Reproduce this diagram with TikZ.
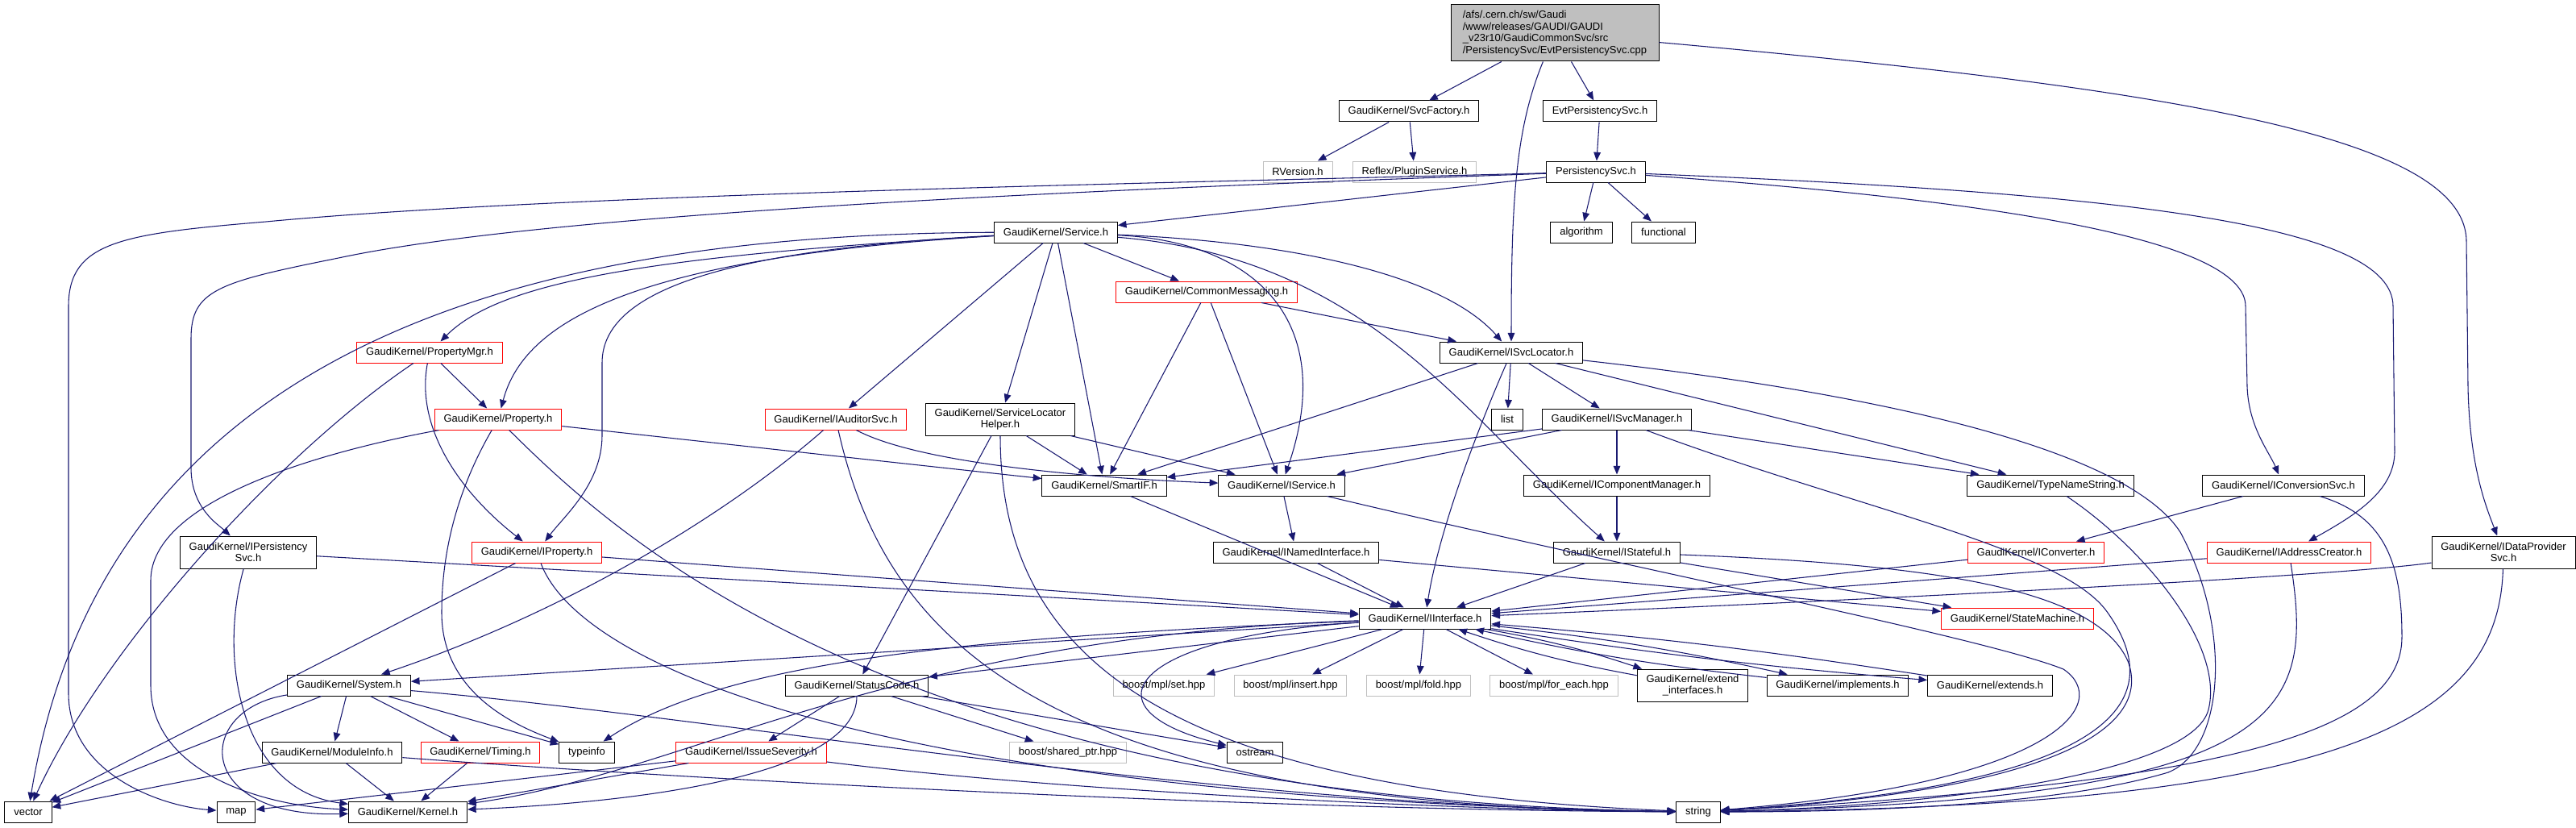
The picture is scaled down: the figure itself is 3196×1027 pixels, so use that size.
\documentclass[tikz,border=0pt]{standalone}
\usepackage{fontspec}
\setmainfont{Liberation Sans}
\usepackage{tikz}
\usetikzlibrary{arrows.meta}
\definecolor{edgeblue}{HTML}{191970}
\definecolor{rootgray}{HTML}{BFBFBF}
\definecolor{extgray}{HTML}{BFBFBF}

\begin{document}
\begin{tikzpicture}[x=0.75pt,y=0.75pt,yscale=-1,xscale=1,
  hdr/.style={draw=black,fill=white,line width=0.75pt,inner xsep=8.5pt,inner ysep=0pt,minimum height=19.5pt,align=center,font=\fontsize{9.75pt}{11pt}\selectfont},
  redhdr/.style={hdr,draw=red},
  exthdr/.style={hdr,draw=extgray},
  twohdr/.style={hdr,minimum height=30pt},
  dep/.style={draw=edgeblue,line width=0.8pt,-{Triangle[length=8pt,width=6.5pt]}}]
% set diagram left start at 0, and has height of 1027
\useasboundingbox (0,0) rectangle (3196,1027);

% Text Node
\draw (1929,41) node [hdr,fill=rootgray,align=left,inner xsep=4pt,minimum width=193.5pt,minimum height=52.5pt] (root) {/afs/.cern.ch/sw/Gaudi\\/www/releases/GAUDI/GAUDI\\\_v23r10/GaudiCommonSvc/src\\/PersistencySvc/EvtPersistencySvc.cpp};
% Text Node
\draw (1748,138) node [hdr] (svcfactory) {GaudiKernel/SvcFactory.h};
% Text Node
\draw (1985,138) node [hdr] (evtpers) {EvtPersistencySvc.h};
% Text Node
\draw (1610,213) node [exthdr] (rversion) {RVersion.h};
% Text Node
\draw (1755,213) node [exthdr] (pluginsvc) {Reflex/PluginService.h};
% Text Node
\draw (1980,213) node [hdr] (perssvc) {PersistencySvc.h};
% Text Node
\draw (1310,288) node [hdr] (service) {GaudiKernel/Service.h};
% Text Node
\draw (1962,288) node [hdr] (algorithm) {algorithm};
% Text Node
\draw (2064,288) node [hdr] (functional) {functional};
% Text Node
\draw (1497,362) node [redhdr] (commonmsg) {GaudiKernel/CommonMessaging.h};
% Text Node
\draw (533,437) node [redhdr] (propmgr) {GaudiKernel/PropertyMgr.h};
% Text Node
\draw (1875,437) node [hdr] (isvclocator) {GaudiKernel/ISvcLocator.h};
% Text Node
\draw (618,520) node [redhdr] (property) {GaudiKernel/Property.h};
% Text Node
\draw (1037,520) node [redhdr] (iauditor) {GaudiKernel/IAuditorSvc.h};
% Text Node
\draw (1241,520) node [twohdr] (slhelper) {GaudiKernel/ServiceLocator\\Helper.h};
% Text Node
\draw (1870,520) node [hdr] (list) {list};
% Text Node
\draw (2006,520) node [hdr] (isvcmanager) {GaudiKernel/ISvcManager.h};
% Text Node
\draw (1370,602) node [hdr] (smartif) {GaudiKernel/SmartIF.h};
% Text Node
\draw (1590,602) node [hdr] (iservice) {GaudiKernel/IService.h};
% Text Node
\draw (2006,602) node [hdr] (icompmgr) {GaudiKernel/IComponentManager.h};
% Text Node
\draw (2544,602) node [hdr] (typename) {GaudiKernel/TypeNameString.h};
% Text Node
\draw (2833,602) node [hdr] (iconvsvc) {GaudiKernel/IConversionSvc.h};
% Text Node
\draw (308,685) node [twohdr] (ipersistency) {GaudiKernel/IPersistency\\Svc.h};
% Text Node
\draw (666,685) node [redhdr] (iproperty) {GaudiKernel/IProperty.h};
% Text Node
\draw (1608,685) node [hdr] (inamed) {GaudiKernel/INamedInterface.h};
% Text Node
\draw (2006,685) node [hdr] (istateful) {GaudiKernel/IStateful.h};
% Text Node
\draw (2526,685) node [redhdr] (iconverter) {GaudiKernel/IConverter.h};
% Text Node
\draw (2840,685) node [redhdr] (iaddress) {GaudiKernel/IAddressCreator.h};
% Text Node
\draw (3106,685) node [twohdr] (idataprov) {GaudiKernel/IDataProvider\\Svc.h};
% Text Node
\draw (1768,767) node [hdr] (iinterface) {GaudiKernel/IInterface.h};
% Text Node
\draw (2503,767) node [redhdr] (statemachine) {GaudiKernel/StateMachine.h};
% Text Node
\draw (433,850) node [hdr] (system) {GaudiKernel/System.h};
% Text Node
\draw (1063,850) node [hdr] (statuscode) {GaudiKernel/StatusCode.h};
% Text Node
\draw (1444,850) node [exthdr] (mplset) {boost/mpl/set.hpp};
% Text Node
\draw (1601,850) node [exthdr] (mplinsert) {boost/mpl/insert.hpp};
% Text Node
\draw (1760,850) node [exthdr] (mplfold) {boost/mpl/fold.hpp};
% Text Node
\draw (1928,850) node [exthdr] (mplforeach) {boost/mpl/for\_each.hpp};
% Text Node
\draw (2100,850) node [twohdr] (extendif) {GaudiKernel/extend\\\_interfaces.h};
% Text Node
\draw (2280,850) node [hdr] (implements) {GaudiKernel/implements.h};
% Text Node
\draw (2469,850) node [hdr] (extends) {GaudiKernel/extends.h};
% Text Node
\draw (412,933) node [hdr] (moduleinfo) {GaudiKernel/ModuleInfo.h};
% Text Node
\draw (596,933) node [redhdr] (timing) {GaudiKernel/Timing.h};
% Text Node
\draw (728,933) node [hdr] (typeinfo) {typeinfo};
% Text Node
\draw (932,933) node [redhdr] (issuesev) {GaudiKernel/IssueSeverity.h};
% Text Node
\draw (1325,933) node [exthdr] (sharedptr) {boost/shared\_ptr.hpp};
% Text Node
\draw (1557,933) node [hdr] (ostream) {ostream};
% Text Node
\draw (35,1007) node [hdr] (vector) {vector};
% Text Node
\draw (293,1007) node [hdr] (map) {map};
% Text Node
\draw (506,1007) node [hdr] (kernel) {GaudiKernel/Kernel.h};
% Text Node
\draw (2107,1007) node [hdr] (string) {string};

%Straight Lines
\draw [dep] (root) -- (svcfactory);
\draw [dep] (root) -- (evtpers);
\draw [dep] (svcfactory) -- (rversion);
\draw [dep] (svcfactory) -- (pluginsvc);
\draw [dep] (evtpers) -- (perssvc);
\draw [dep] (perssvc) -- (service);
\draw [dep] (perssvc) -- (algorithm);
\draw [dep] (perssvc) -- (functional);
\draw [dep] (service) -- (iauditor);
\draw [dep] (service) -- (slhelper);
\draw [dep] (service) -- (smartif);
\draw [dep] (service) -- (commonmsg);
\draw [dep] (commonmsg) -- (isvclocator);
\draw [dep] (commonmsg) -- (smartif);
\draw [dep] (commonmsg) -- (iservice);
\draw [dep] (propmgr) -- (property);
\draw [dep] (property) -- (smartif);
\draw [dep] (slhelper) -- (smartif);
\draw [dep] (slhelper) -- (iservice);
\draw [dep] (slhelper) -- (statuscode);
\draw [dep] (isvclocator) -- (list);
\draw [dep] (isvclocator) -- (isvcmanager);
\draw [dep] (isvclocator) -- (smartif);
\draw [dep] (isvclocator) -- (typename);
\draw [dep] (isvcmanager) -- (smartif);
\draw [dep] (isvcmanager) -- (iservice);
\draw [dep] (isvcmanager) -- (icompmgr);
\draw [dep] (isvcmanager) -- (typename);
\draw [dep] (icompmgr) -- (istateful);
\draw [dep] (smartif) -- (iinterface);
\draw [dep] (iservice) -- (inamed);
\draw [dep] (inamed) -- (iinterface);
\draw [dep] (inamed) -- (statemachine);
\draw [dep] (istateful) -- (iinterface);
\draw [dep] (istateful) -- (statemachine);
\draw [dep] (iconvsvc) -- (iconverter);
\draw [dep] (iconverter) -- (iinterface);
\draw [dep] (iaddress) -- (iinterface);
\draw [dep] (ipersistency) -- (iinterface);
\draw [dep] (iproperty) -- (iinterface);
\draw [dep] (iproperty) -- (vector);
\draw [dep] (iinterface) -- (system);
\draw [dep] (iinterface) -- (statuscode);
\draw [dep] (iinterface) -- (mplset);
\draw [dep] (iinterface) -- (mplinsert);
\draw [dep] (iinterface) -- (mplfold);
\draw [dep] (iinterface) -- (mplforeach);
\draw [dep] (iinterface) to [bend right=4] (extendif);
\draw [dep] (extendif) to [bend right=4] (iinterface);
\draw [dep] (iinterface) to [bend right=3] (implements);
\draw [dep] (implements) to [bend right=3] (iinterface);
\draw [dep] (iinterface) to [bend left=2] (extends);
\draw [dep] (extends) to [bend left=2] (iinterface);
\draw [dep] (system) -- (moduleinfo);
\draw [dep] (system) -- (timing);
\draw [dep] (system) -- (typeinfo);
\draw [dep] (system) -- (vector);
\draw [dep] (moduleinfo) -- (kernel);
\draw [dep] (moduleinfo) -- (vector);
\draw [dep] (timing) -- (kernel);
\draw [dep] (statuscode) -- (issuesev);
\draw [dep] (statuscode) -- (sharedptr);
\draw [dep] (statuscode) -- (ostream);
\draw [dep] (issuesev) -- (kernel);
\draw [dep] (issuesev) -- (map);

%Curve Lines
\draw [dep] (root) .. controls (1880,160) and (1875,250) .. (isvclocator);
\draw [dep] (root) .. controls (2700,110) and (3060,170) .. (3060,300) -- (3062,480) .. controls (3064,580) and (3085,630) .. (idataprov);
\draw [dep] (perssvc) .. controls (1500,226) and (700,240) .. (330,275) .. controls (150,290) and (85,300) .. (85,380) -- (85,860) .. controls (85,960) and (200,1000) .. (map);
\draw [dep] (perssvc) .. controls (1450,232) and (700,260) .. (420,320) .. controls (270,350) and (237,360) .. (237,420) -- (237,580) .. controls (237,630) and (270,650) .. (ipersistency);
\draw [dep] (perssvc) .. controls (2500,250) and (2786,300) .. (2786,380) -- (2788,480) .. controls (2790,530) and (2815,560) .. (iconvsvc);
\draw [dep] (perssvc) .. controls (2650,240) and (2969,280) .. (2969,380) -- (2971,560) .. controls (2971,610) and (2920,640) .. (iaddress);
\draw [dep] (service) .. controls (650,290) and (130,430) .. (vector);
\draw [dep] (service) .. controls (800,318) and (620,350) .. (propmgr);
\draw [dep] (service) .. controls (780,320) and (650,400) .. (property);
\draw [dep] (service) .. controls (900,310) and (747,360) .. (747,450) -- (747,540) .. controls (747,600) and (700,640) .. (iproperty);
\draw [dep] (service) .. controls (1600,300) and (1790,340) .. (isvclocator);
\draw [dep] (service) .. controls (1560,300) and (1660,400) .. (iservice);
\draw [dep] (service) .. controls (1700,320) and (1820,520) .. (istateful);
\draw [dep] (propmgr) .. controls (515,530) and (570,610) .. (iproperty);
\draw [dep] (propmgr) .. controls (350,560) and (130,800) .. (vector);
\draw [dep] (property) .. controls (400,560) and (187,620) .. (187,720) -- (187,850) .. controls (187,960) and (330,1000) .. (kernel);
\draw [dep] (property) .. controls (560,620) and (548,700) .. (548,760) .. controls (548,860) and (640,900) .. (typeinfo);
\draw [dep] (property) .. controls (760,660) and (1100,990) .. (string);
\draw [dep] (iauditor) .. controls (900,640) and (700,760) .. (system);
\draw [dep] (iauditor) .. controls (1150,580) and (1400,595) .. (iservice);
\draw [dep] (iauditor) .. controls (1100,800) and (1300,1000) .. (string);
\draw [dep] (slhelper) .. controls (1241,820) and (1450,980) .. (string);
\draw [dep] (isvclocator) .. controls (1830,540) and (1785,660) .. (iinterface);
\draw [dep] (isvclocator) .. controls (2350,490) and (2640,560) .. (2705,660) .. controls (2770,780) and (2760,930) .. (2690,958) .. controls (2550,1000) and (2300,1007) .. (string);
\draw [dep] (isvcmanager) .. controls (2300,630) and (2560,680) .. (2615,760) .. controls (2700,880) and (2600,975) .. (string);
\draw [dep] (typename) .. controls (2660,680) and (2760,800) .. (2740,880) .. controls (2720,960) and (2400,1000) .. (string);
\draw [dep] (iservice) .. controls (2000,700) and (2460,790) .. (2560,830) .. controls (2620,870) and (2560,970) .. (string);
\draw [dep] (istateful) .. controls (2400,700) and (2600,730) .. (2640,820) .. controls (2670,900) and (2560,980) .. (string);
\draw [dep] (iconvsvc) .. controls (2960,640) and (2980,700) .. (2980,790) .. controls (2980,900) and (2800,970) .. (string);
\draw [dep] (iaddress) .. controls (2870,880) and (2850,990) .. (string);
\draw [dep] (idataprov) .. controls (2900,715) and (2300,745) .. (iinterface);
\draw [dep] (idataprov) .. controls (3100,900) and (2900,1000) .. (string);
\draw [dep] (ipersistency) .. controls (270,820) and (300,980) .. (kernel);
\draw [dep] (iproperty) .. controls (720,830) and (1100,990) .. (string);
\draw [dep] (iinterface) .. controls (1200,790) and (900,820) .. (typeinfo);
\draw [dep] (iinterface) .. controls (1100,790) and (850,960) .. (kernel);
\draw [dep] (iinterface) .. controls (1400,790) and (1340,880) .. (ostream);
\draw [dep] (system) .. controls (240,880) and (240,1015) .. (kernel);
\draw [dep] (system) .. controls (900,890) and (1500,1000) .. (string);
\draw [dep] (moduleinfo) .. controls (900,970) and (1600,1005) .. (string);
\draw [dep] (statuscode) .. controls (1063,960) and (800,995) .. (kernel);
\draw [dep] (issuesev) .. controls (1300,980) and (1800,1005) .. (string);
\end{tikzpicture}
\end{document}
